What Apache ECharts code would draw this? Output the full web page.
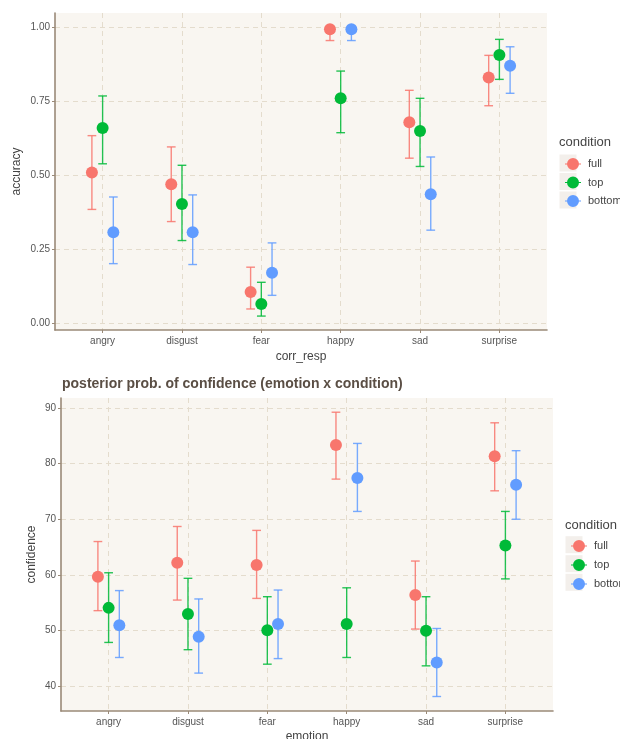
<!DOCTYPE html>
<html><head><meta charset="utf-8">
<script src="https://cdn.jsdelivr.net/npm/echarts@6/dist/echarts.min.js"></script>
<style>html,body{margin:0;padding:0;background:#fff}#c{width:620px;height:739px}</style>
</head><body><div id="c"></div>
<script>
const categories = ['angry','disgust','fear','happy','sad','surprise'];
const conditions = ['full','top','bottom'];
const condColors = ['#F8766D','#00BA38','#619CFF'];
// [mean, lower, upper] per category
const accFull   = [[0.509,0.384,0.633],[0.469,0.343,0.595],[0.105,0.048,0.189],[0.992,0.954,0.999],[0.678,0.557,0.786],[0.829,0.734,0.904]];
const accTop    = [[0.659,0.538,0.767],[0.402,0.279,0.533],[0.065,0.024,0.138],[0.759,0.643,0.851],[0.649,0.529,0.759],[0.905,0.823,0.958]];
const accBottom = [[0.307,0.201,0.426],[0.307,0.198,0.433],[0.170,0.094,0.271],[0.992,0.954,0.999],[0.435,0.314,0.561],[0.869,0.776,0.933]];
const confFull   = [[59.7,53.6,66.0],[62.2,55.5,68.7],[61.8,55.8,68.0],[83.3,77.2,89.2],[56.4,50.3,62.5],[81.3,75.1,87.3]];
const confTop    = [[54.1,47.9,60.4],[53.0,46.6,59.4],[50.1,44.0,56.1],[51.2,45.2,57.7],[50.0,43.7,56.1],[65.3,59.3,71.4]];
const confBottom = [[51.0,45.2,57.2],[48.9,42.4,55.7],[51.2,45.0,57.3],[77.4,71.4,83.6],[44.3,38.2,50.4],[76.2,70.0,82.3]];
const accTicks = [0, 0.25, 0.5, 0.75, 1];
const accTickLabels = ['0.00','0.25','0.50','0.75','1.00'];
const confTicks = [40, 50, 60, 70, 80, 90];
const catTicks = [1, 2, 3, 4, 5, 6];
const dodge = [-0.135, 0, 0.135];

const chart = echarts.init(document.getElementById('c'), null, {renderer: 'canvas'});
const FONT = 'Liberation Sans, Arial, sans-serif';
const axisCol = '#9a8a78';
const gridCol = '#e4dccd';
const panelBg = '#f9f6f1';
const keyBg = '#f3efeb';
const legendIcon = 'path://M0,5.4h16v1.2h-16z M14,6a6,6 0 1,1 -12,0a6,6 0 1,1 12,0z';

function xAxisDef(gi, name, gap) {
  return {
    type: 'value', gridIndex: gi, min: 0.4, max: 6.6,
    name: name, nameLocation: 'middle', nameGap: gap, nameMoveOverlap: false,
    nameTextStyle: {fontFamily: FONT, fontSize: 12, color: '#444'},
    axisLine: {show: true, onZero: false, lineStyle: {color: axisCol, width: 1.6}},
    axisTick: {show: true, length: 3, customValues: catTicks, lineStyle: {color: axisCol}},
    axisLabel: {customValues: catTicks, formatter: v => categories[Math.round(v) - 1] || '', fontFamily: FONT, fontSize: 10, color: '#555', margin: 6},
    splitLine: {show: true, lineStyle: {color: gridCol, type: [5, 4], width: 1}}
  };
}
function yAxisDef(gi, name, gap, min, max, ticks, fmt) {
  return {
    type: 'value', gridIndex: gi, min: min, max: max,
    name: name, nameLocation: 'middle', nameGap: gap, nameRotate: 90, nameMoveOverlap: false,
    nameTextStyle: {fontFamily: FONT, fontSize: 12, color: '#444'},
    axisLine: {show: true, onZero: false, lineStyle: {color: axisCol, width: 1.6}},
    axisTick: {show: true, length: 3, customValues: ticks, lineStyle: {color: axisCol}},
    axisLabel: {customValues: ticks, formatter: fmt, fontFamily: FONT, fontSize: 10, color: '#555', margin: 5},
    splitLine: {show: true, lineStyle: {color: gridCol, type: [5, 4], width: 1}}
  };
}

function makeBar(color) {
  return function (params, api) {
    const x = api.value(0), lo = api.value(1), hi = api.value(2);
    const pLo = api.coord([x, lo]), pHi = api.coord([x, hi]);
    const hw = api.size([0.055, 0])[0];
    const st = {stroke: color, lineWidth: 1.4, opacity: 0.85};
    return {type: 'group', children: [
      {type: 'line', shape: {x1: pLo[0], y1: pLo[1], x2: pHi[0], y2: pHi[1]}, style: st},
      {type: 'line', shape: {x1: pLo[0] - hw, y1: pLo[1], x2: pLo[0] + hw, y2: pLo[1]}, style: st},
      {type: 'line', shape: {x1: pHi[0] - hw, y1: pHi[1], x2: pHi[0] + hw, y2: pHi[1]}, style: st}
    ]};
  };
}

const series = [];
[[accFull, accTop, accBottom], [confFull, confTop, confBottom]].forEach((sets, gi) => {
  sets.forEach((arr, ci) => {
    series.push({
      type: 'custom', name: conditions[ci], xAxisIndex: gi, yAxisIndex: gi, z: 2,
      renderItem: makeBar(condColors[ci]), itemStyle: {color: condColors[ci]},
      encode: {x: 0, y: [1, 2]}, silent: true,
      data: arr.map((d, j) => [j + 1 + dodge[ci], d[1], d[2]])
    });
    series.push({
      type: 'scatter', name: conditions[ci], xAxisIndex: gi, yAxisIndex: gi, z: 3,
      symbolSize: 12, itemStyle: {color: condColors[ci], opacity: 1},
      emphasis: {disabled: true}, silent: true,
      data: arr.map((d, j) => [j + 1 + dodge[ci], d[0]])
    });
  });
});

function legendDef(left, top, gap) {
  return {
    orient: 'vertical', left: left, top: top, itemWidth: 16, itemHeight: 12, itemGap: gap,
    selectedMode: false, z: 5,
    textStyle: {fontFamily: FONT, fontSize: 11, color: '#444', padding: [0, 0, 0, 2]},
    data: conditions.map((c, i) => ({name: c, icon: legendIcon, itemStyle: {color: condColors[i]}}))
  };
}
function keyBoxes(cx, ys) {
  return ys.map(y => ({type: 'rect', z: 1, left: cx - 8.5, top: y - 8.5, shape: {width: 17, height: 17}, style: {fill: keyBg}}));
}

chart.setOption({
  animation: false,
  backgroundColor: '#ffffff',
  title: [
    {text: 'condition', left: 554, top: 131, textStyle: {fontFamily: FONT, fontSize: 13, fontWeight: 'normal', color: '#444'}},
    {text: 'posterior prob. of confidence (emotion x condition)', left: 57, top: 372, textStyle: {fontFamily: FONT, fontSize: 14, fontWeight: 'bold', color: '#5a4e44'}},
    {text: 'condition', left: 560, top: 514, textStyle: {fontFamily: FONT, fontSize: 13, fontWeight: 'normal', color: '#444'}}
  ],
  legend: [legendDef(560, 153, 6.5), legendDef(566, 535, 7)],
  graphic: keyBoxes(568, [163, 181.5, 200]).concat(keyBoxes(574, [544.7, 563.7, 582.3])),
  grid: [
    {left: 55, top: 13, width: 492, height: 317, show: true, backgroundColor: panelBg, borderWidth: 0, outerBoundsMode: 'none', containLabel: false},
    {left: 61, top: 398, width: 492, height: 313, show: true, backgroundColor: panelBg, borderWidth: 0, outerBoundsMode: 'none', containLabel: false}
  ],
  xAxis: [xAxisDef(0, 'corr_resp', 21), xAxisDef(1, 'emotion', 20)],
  yAxis: [
    yAxisDef(0, 'accuracy', 32, -0.023, 1.047, accTicks, v => accTickLabels[accTicks.indexOf(v)] !== undefined ? accTickLabels[accTicks.indexOf(v)] : v.toFixed(2)),
    yAxisDef(1, 'confidence', 23, 35.6, 91.75, confTicks, v => String(v))
  ],
  series: series
});
</script></body></html>
